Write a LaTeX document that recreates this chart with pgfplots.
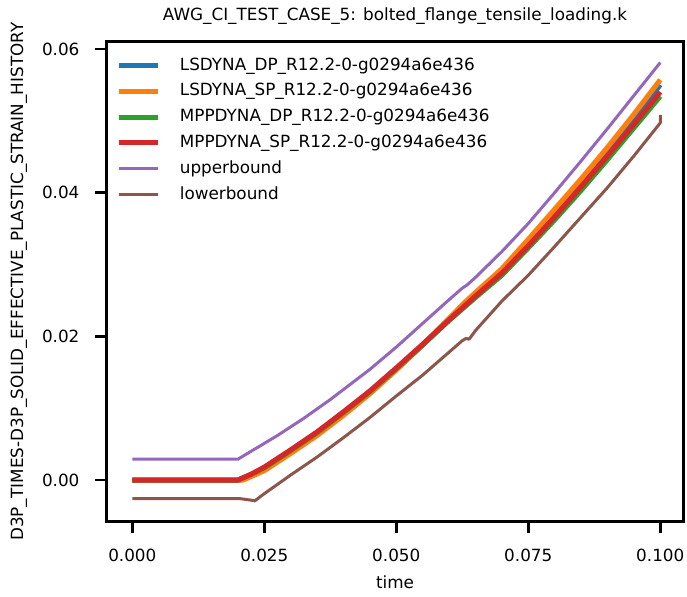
\documentclass[border=0pt]{standalone}
\usepackage{fontspec}
\setmainfont{DejaVu Sans}
\usepackage{pgfplots}
\pgfplotsset{compat=1.18}
\usepackage{pgfplotstable}

\definecolor{tabblue}{HTML}{1F77B4}
\definecolor{taborange}{HTML}{FF7F0E}
\definecolor{tabgreen}{HTML}{2CA02C}
\definecolor{tabred}{HTML}{D62728}
\definecolor{tabpurple}{HTML}{9467BD}
\definecolor{tabbrown}{HTML}{8C564B}

\newcommand{\fs}{\fontsize{8.4pt}{10pt}\selectfont}

% LSDYNA_DP
\pgfplotstableread{
x y
0 0
0.0205 0
0.025 0.0015
0.030 0.0039
0.035 0.0064
0.040 0.0092
0.045 0.0122
0.050 0.0154
0.055 0.0188
0.060 0.0223
0.065 0.0258
0.070 0.0291
0.075 0.0331
0.080 0.0372
0.085 0.0414
0.090 0.0458
0.095 0.0503
0.100 0.0550
}\lsdp

% LSDYNA_SP
\pgfplotstableread{
x y
0 0
0.021 0
0.025 0.0013
0.030 0.0037
0.035 0.0062
0.040 0.0090
0.045 0.0120
0.050 0.0153
0.055 0.0188
0.060 0.0225
0.0628 0.0246
0.065 0.0261
0.070 0.0294
0.075 0.0335
0.080 0.0377
0.085 0.0419
0.090 0.0463
0.095 0.0509
0.100 0.0557
}\lssp

% MPPDYNA_DP
\pgfplotstableread{
x y
0 0
0.020 0
0.0225 0.0008
0.025 0.0017
0.030 0.0041
0.035 0.0066
0.040 0.0094
0.045 0.0123
0.050 0.0155
0.055 0.0188
0.060 0.0222
0.065 0.0254
0.070 0.0285
0.075 0.0323
0.080 0.0362
0.085 0.0403
0.090 0.0446
0.095 0.0490
0.100 0.0534
}\mppdp

% MPPDYNA_SP
\pgfplotstableread{
x y
0 0
0.020 0
0.0225 0.0008
0.025 0.0018
0.030 0.0042
0.035 0.0067
0.040 0.0095
0.045 0.0124
0.050 0.0156
0.055 0.0189
0.060 0.0223
0.065 0.0256
0.070 0.0288
0.075 0.0326
0.080 0.0366
0.085 0.0408
0.090 0.0451
0.095 0.0495
0.100 0.0540
}\mppsp

% upperbound
\pgfplotstableread{
x y
0 0.0029
0.020 0.0029
0.0225 0.0040
0.025 0.0051
0.0275 0.0062
0.030 0.0074
0.0325 0.0086
0.035 0.0099
0.0375 0.0112
0.040 0.0126
0.045 0.0154
0.050 0.0185
0.055 0.0218
0.060 0.0251
0.0625 0.0267
0.0635 0.0272
0.065 0.0282
0.070 0.0318
0.075 0.0357
0.080 0.0400
0.085 0.0444
0.090 0.0489
0.095 0.0535
0.100 0.0581
}\ubound

% lowerbound
\pgfplotstableread{
x y
0 -0.0026
0.0205 -0.0026
0.0225 -0.0028
0.0232 -0.0029
0.025 -0.0019
0.030 0.0007
0.035 0.0032
0.040 0.0059
0.045 0.0087
0.050 0.0117
0.055 0.0146
0.060 0.0178
0.0625 0.0194
0.0632 0.0197
0.0638 0.0196
0.065 0.0208
0.070 0.0249
0.075 0.0285
0.080 0.0325
0.085 0.0366
0.090 0.0407
0.095 0.0451
0.100 0.0497
0.100 0.0508
}\lbound

\begin{document}
\begin{tikzpicture}
\begin{axis}[
    scale only axis,
    width=288.3pt, height=240pt,
    xmin=-0.00485, xmax=0.10436,
    ymin=-0.0058, ymax=0.0610,
    xtick={0,0.025,0.05,0.075,0.1},
    xticklabels={0.000,0.025,0.050,0.075,0.100},
    ytick={0,0.02,0.04,0.06},
    yticklabels={0.00,0.02,0.04,0.06},
    scaled ticks=false,
    xtick pos=bottom, ytick pos=left,
    tick align=outside,
    major tick length=5.8pt,
    every tick/.style={black, line width=1.3pt},
    axis line style={line width=1.3pt},
    tick label style={font=\fs},
    xticklabel style={yshift=-4.3pt},
    yticklabel style={xshift=-4.3pt},
    every axis title/.style={at={(axis description cs:0.5,1.0523)}, anchor=center, font=\fs},
    every axis x label/.style={at={(axis description cs:0.5,-0.1256)}, anchor=center, font=\fs},
    every axis y label/.style={at={(axis description cs:-0.1523,0.5)}, rotate=90, anchor=center, font=\fs},
    title={AWG\_CI\_TEST\_CASE\_5: bolted\_flange\_tensile\_loading.k},
    xlabel={time},
    ylabel={D3P\_TIMES-D3P\_SOLID\_EFFECTIVE\_PLASTIC\_STRAIN\_HISTORY},
    legend cell align=left,
    legend style={draw=none, fill=none, font=\fs,
        at={(0.017,0.9685)}, anchor=north west,
        inner sep=0pt, row sep=4.73pt,
        nodes={inner sep=0pt, text height=6.4pt, text depth=1.8pt},
        /tikz/every odd column/.append style={column sep=9.5pt}},
    legend image code/.code={\draw[#1] (0pt,0pt) -- (19.5pt,0pt);},
    every axis plot/.append style={line join=round},
]
\addplot[tabblue, line width=2.5pt] table {\lsdp};
\addlegendentry{LSDYNA\_DP\_R12.2-0-g0294a6e436}
\addplot[taborange, line width=2.5pt] table {\lssp};
\addlegendentry{LSDYNA\_SP\_R12.2-0-g0294a6e436}
\addplot[tabgreen, line width=2.5pt] table {\mppdp};
\addlegendentry{MPPDYNA\_DP\_R12.2-0-g0294a6e436}
\addplot[tabred, line width=2.5pt] table {\mppsp};
\addlegendentry{MPPDYNA\_SP\_R12.2-0-g0294a6e436}
\addplot[tabpurple, line width=1.5pt] table {\ubound};
\addlegendentry{upperbound}
\addplot[tabbrown, line width=1.5pt] table {\lbound};
\addlegendentry{lowerbound}
\end{axis}
\pgfresetboundingbox
\path ([xshift=-53.35pt,yshift=-37.15pt]current axis.south west)
  rectangle ([xshift=1.85pt,yshift=20.85pt]current axis.north east);
\end{tikzpicture}
\end{document}
